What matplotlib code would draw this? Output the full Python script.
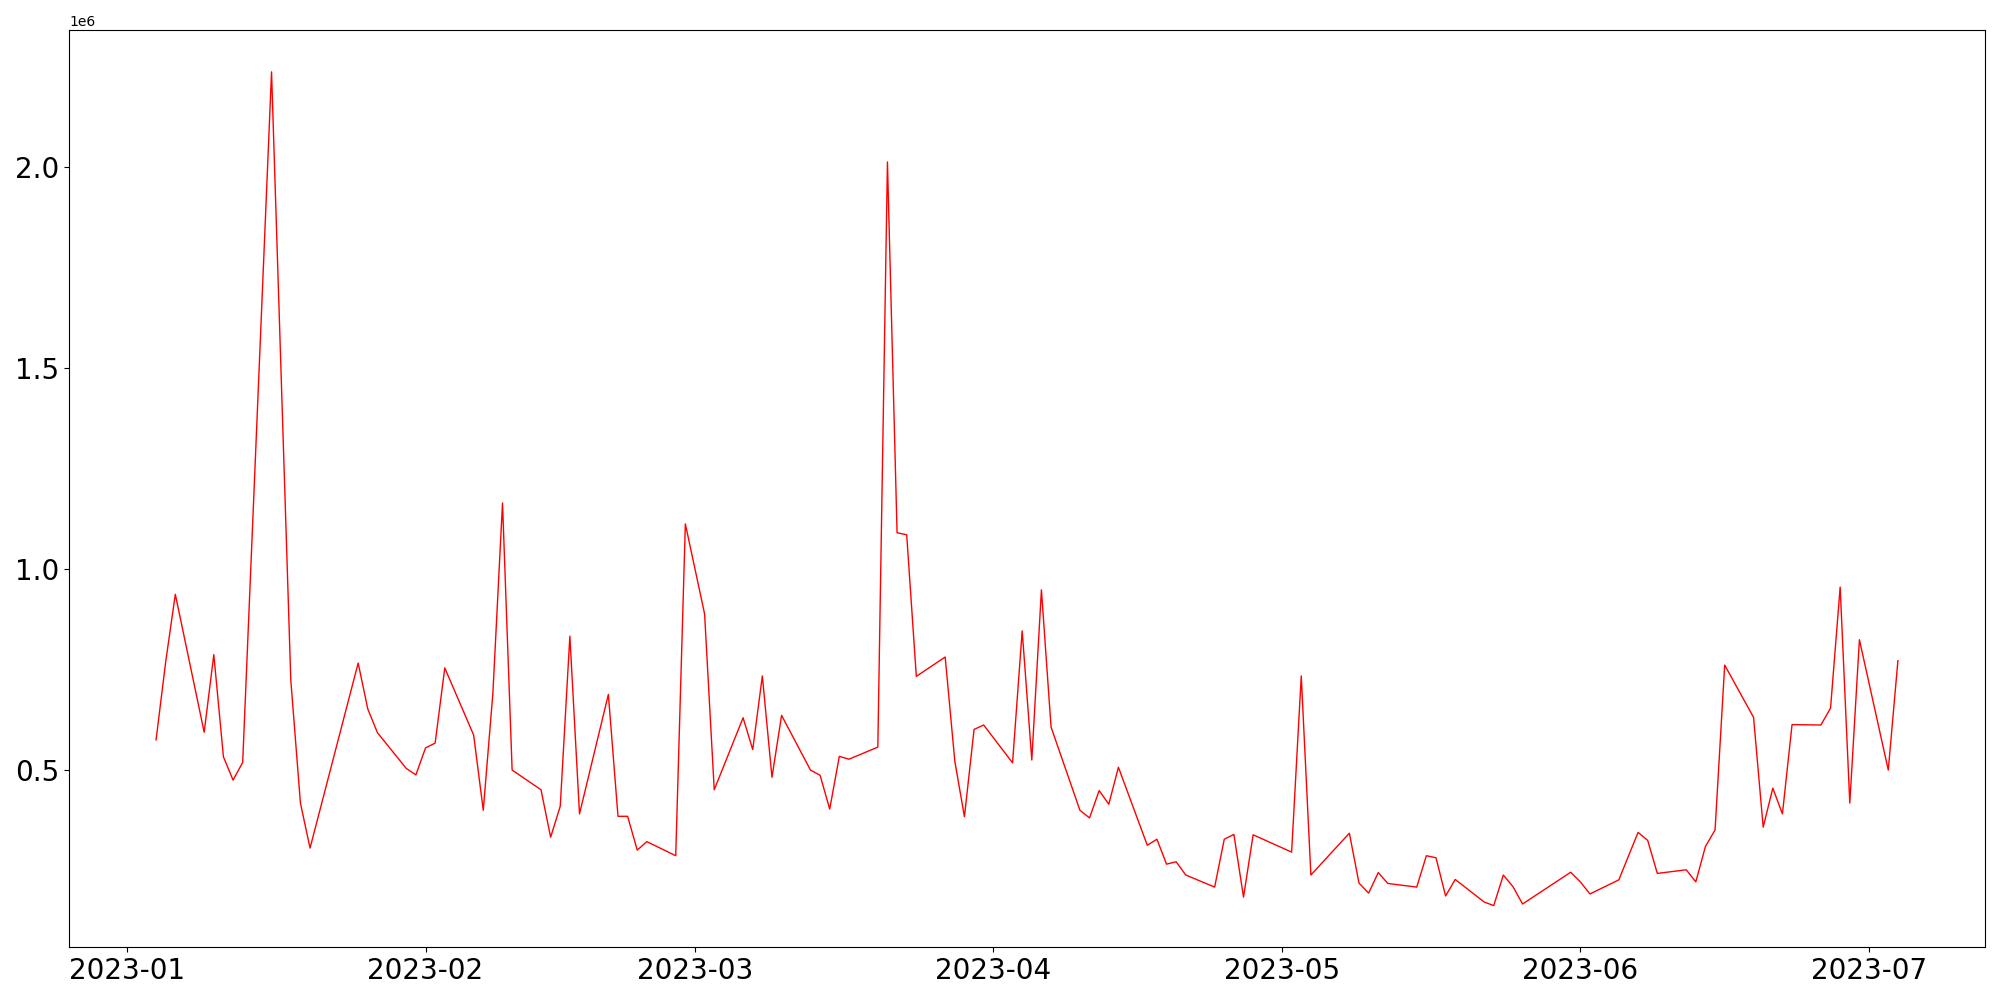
import matplotlib
matplotlib.use("Agg")
import matplotlib.pyplot as plt
import pandas as pd

dates = ["2023-01-04", "2023-01-05", "2023-01-06", "2023-01-09", "2023-01-10",
         "2023-01-11", "2023-01-12", "2023-01-13", "2023-01-16", "2023-01-18",
         "2023-01-19", "2023-01-20", "2023-01-25", "2023-01-26", "2023-01-27",
         "2023-01-30", "2023-01-31", "2023-02-01", "2023-02-02", "2023-02-03",
         "2023-02-06", "2023-02-07", "2023-02-08", "2023-02-09", "2023-02-10",
         "2023-02-13", "2023-02-14", "2023-02-15", "2023-02-16", "2023-02-17",
         "2023-02-20", "2023-02-21", "2023-02-22", "2023-02-23", "2023-02-24",
         "2023-02-27", "2023-02-28", "2023-03-02", "2023-03-03", "2023-03-06",
         "2023-03-07", "2023-03-08", "2023-03-09", "2023-03-10", "2023-03-13",
         "2023-03-14", "2023-03-15", "2023-03-16", "2023-03-17", "2023-03-20",
         "2023-03-21", "2023-03-22", "2023-03-23", "2023-03-24", "2023-03-27",
         "2023-03-28", "2023-03-29", "2023-03-30", "2023-03-31", "2023-04-03",
         "2023-04-04", "2023-04-05", "2023-04-06", "2023-04-07", "2023-04-10",
         "2023-04-11", "2023-04-12", "2023-04-13", "2023-04-14", "2023-04-17",
         "2023-04-18", "2023-04-19", "2023-04-20", "2023-04-21", "2023-04-24",
         "2023-04-25", "2023-04-26", "2023-04-27", "2023-04-28", "2023-05-02",
         "2023-05-03", "2023-05-04", "2023-05-08", "2023-05-09", "2023-05-10",
         "2023-05-11", "2023-05-12", "2023-05-15", "2023-05-16", "2023-05-17",
         "2023-05-18", "2023-05-19", "2023-05-22", "2023-05-23", "2023-05-24",
         "2023-05-25", "2023-05-26", "2023-05-31", "2023-06-01", "2023-06-02",
         "2023-06-05", "2023-06-07", "2023-06-08", "2023-06-09", "2023-06-12",
         "2023-06-13", "2023-06-14", "2023-06-15", "2023-06-16", "2023-06-19",
         "2023-06-20", "2023-06-21", "2023-06-22", "2023-06-23", "2023-06-26",
         "2023-06-27", "2023-06-28", "2023-06-29", "2023-06-30", "2023-07-03",
         "2023-07-04"]

volume = [575000, 769000, 937000, 594000, 787000,
          533000, 475000, 519000, 2236000, 724000,
          418000, 306000, 766000, 652000, 593000,
          504000, 488000, 555000, 567000, 754000,
          587000, 400000, 691000, 1164000, 500000,
          451000, 333000, 410000, 833000, 391000,
          688000, 385000, 385000, 301000, 322000,
          287000, 1112000, 888000, 451000, 630000,
          551000, 734000, 482000, 636000, 500000,
          487000, 403000, 534000, 527000, 557000,
          2012000, 1090000, 1085000, 733000, 781000,
          522000, 384000, 601000, 612000, 518000,
          846000, 525000, 948000, 607000, 400000,
          381000, 449000, 415000, 507000, 313000,
          328000, 266000, 272000, 239000, 209000,
          328000, 340000, 184000, 339000, 296000,
          734000, 239000, 343000, 219000, 194000,
          245000, 218000, 209000, 287000, 282000,
          187000, 228000, 172000, 163000, 239000,
          210000, 167000, 246000, 222000, 192000,
          227000, 345000, 325000, 243000, 252000,
          222000, 310000, 351000, 761000, 631000,
          358000, 455000, 391000, 613000, 612000,
          654000, 955000, 418000, 824000, 500000,
          772000]

x = pd.to_datetime(dates)

plt.figure(figsize=(20, 10), dpi=100)
plt.plot(x, volume, color="red", linewidth=1)
plt.xticks(fontsize=20)
plt.yticks(fontsize=20)
plt.tight_layout()
plt.savefig("out.png")
